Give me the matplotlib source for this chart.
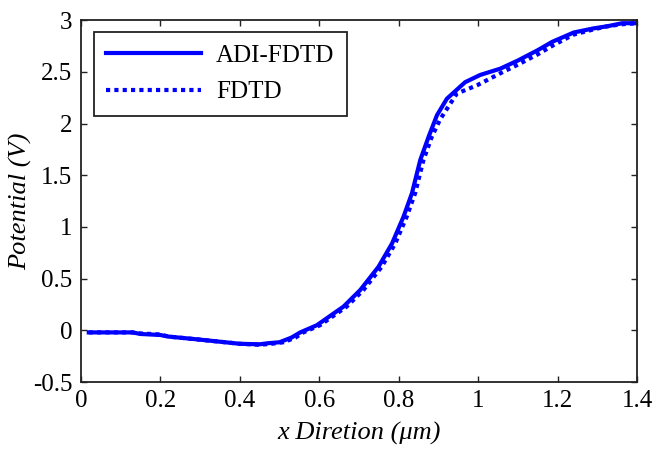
import matplotlib
matplotlib.use("Agg")
import matplotlib.pyplot as plt

plt.rcParams['font.family'] = ['Liberation Serif', 'DejaVu Serif']

# ADI-FDTD (solid)
x_adi = [0.02, 0.13, 0.15, 0.20, 0.22, 0.30, 0.35, 0.40, 0.45, 0.47, 0.50,
         0.53, 0.552, 0.594, 0.661, 0.703, 0.749, 0.783, 0.812, 0.833,
         0.854, 0.875, 0.896, 0.921, 0.967, 1.005, 1.055, 1.10, 1.15, 1.186,
         1.24, 1.29, 1.324, 1.362, 1.40]
y_adi = [-0.02, -0.02, -0.035, -0.045, -0.06, -0.09, -0.11, -0.13, -0.135,
         -0.125, -0.115, -0.07, -0.02, 0.05, 0.23, 0.39, 0.615, 0.84, 1.10,
         1.325, 1.647, 1.872, 2.08, 2.24, 2.40, 2.47, 2.53, 2.61, 2.71, 2.79,
         2.88, 2.92, 2.94, 2.97, 2.97]

# FDTD (dotted)
x_fd = [0.02, 0.13, 0.15, 0.20, 0.22, 0.30, 0.35, 0.40, 0.45, 0.48, 0.51,
        0.54, 0.56, 0.602, 0.669, 0.711, 0.757, 0.791, 0.820, 0.841,
        0.862, 0.883, 0.904, 0.946, 0.997, 1.055, 1.10, 1.15, 1.19, 1.24,
        1.29, 1.324, 1.362, 1.40]
y_fd = [-0.02, -0.02, -0.03, -0.04, -0.06, -0.09, -0.11, -0.13, -0.14,
        -0.13, -0.115, -0.07, -0.02, 0.05, 0.23, 0.39, 0.615, 0.84, 1.10,
        1.325, 1.647, 1.872, 2.04, 2.29, 2.37, 2.485, 2.57, 2.67, 2.76,
        2.86, 2.91, 2.94, 2.96, 2.97]

xticks = [0, 0.2, 0.4, 0.6, 0.8, 1, 1.2, 1.4]
xtick_labels = ["0", "0.2", "0.4", "0.6", "0.8", "1", "1.2", "1.4"]
yticks = [-0.5, 0, 0.5, 1, 1.5, 2, 2.5, 3]
ytick_labels = ["-0.5", "0", "0.5", "1", "1.5", "2", "2.5", "3"]

fig = plt.figure(figsize=(6.57, 4.57), dpi=100)
ax = fig.add_axes([0.123, 0.164, 0.847, 0.792])

blue = "#0000ff"
ax.plot(x_adi, y_adi, '-', color=blue, lw=3, label="ADI-FDTD")
ax.plot(x_fd, y_fd, color=blue, lw=3, linestyle=(0, (1, 1)), label="FDTD")

ax.set_xlim(0, 1.4)
ax.set_ylim(-0.5, 3)
ax.set_xticks(xticks)
ax.set_xticklabels(xtick_labels)
ax.set_yticks(yticks)
ax.set_yticklabels(ytick_labels)
ax.tick_params(direction='in', length=4, width=1, top=True, right=True,
               labelsize=18, pad=6, color="#222222")
for s in ax.spines.values():
    s.set_linewidth(1.3)
    s.set_color("#222222")

ax.set_xlabel("x Diretion (μm)", fontsize=19, style='italic', labelpad=7)
ax.set_ylabel("Potential (V)", fontsize=19, style='italic')
ax.yaxis.set_label_coords(-0.088, 0.5)

leg = ax.legend(loc='upper left', bbox_to_anchor=(0.023, 0.967),
                borderaxespad=0, fontsize=18, handlelength=3.8,
                handletextpad=0.6, borderpad=0.5, labelspacing=0.55,
                fancybox=False, framealpha=1, edgecolor="#222222")
leg.get_frame().set_linewidth(1.3)

fig.savefig("out.png", dpi=100)
